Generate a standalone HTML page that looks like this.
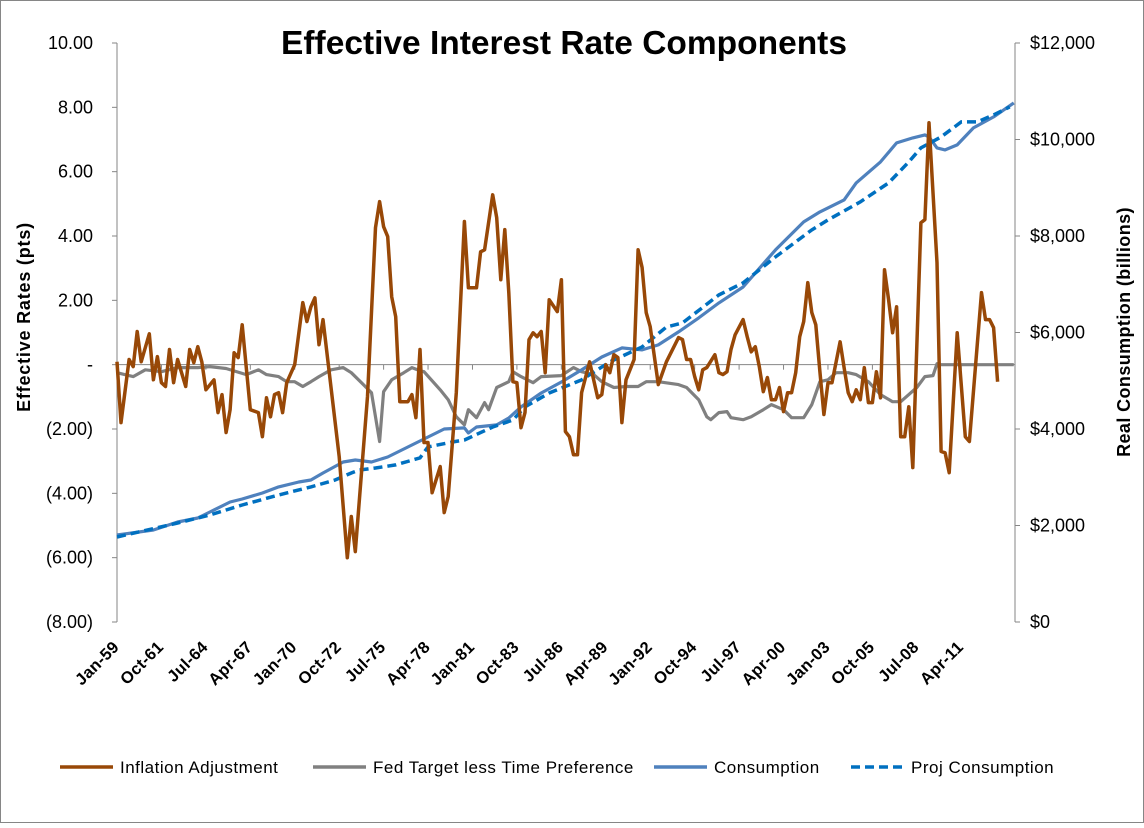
<!DOCTYPE html>
<html><head><meta charset="utf-8"><style>
html,body{margin:0;padding:0;background:#fff;}
svg text{font-family:"Liberation Sans",Arial,sans-serif;}
</style></head><body>
<svg id="chart" width="1144" height="823" viewBox="0 0 1144 823" xmlns="http://www.w3.org/2000/svg">
<rect x="0.5" y="0.5" width="1143" height="822" fill="#fff" stroke="#868686"/>
<text x="564" y="54" font-size="33.5" font-weight="bold" text-anchor="middle" fill="#000">Effective Interest Rate Components</text>
<g id="axes"></g>
<g id="series"></g>
<g id="legend"></g>
</svg>
<script>
// ---- data (quarter index from Jan-59) ----
const xLabels = ["Jan-59","Oct-61","Jul-64","Apr-67","Jan-70","Oct-72","Jul-75","Apr-78","Jan-81","Oct-83","Jul-86","Apr-89","Jan-92","Oct-94","Jul-97","Apr-00","Jan-03","Oct-05","Jul-08","Apr-11"];
const leftTicks = [10,8,6,4,2,0,-2,-4,-6,-8];
const leftTickLabels = ["10.00","8.00","6.00","4.00","2.00","-","(2.00)","(4.00)","(6.00)","(8.00)"];
const rightTicks = [12000,10000,8000,6000,4000,2000,0];
const rightTickLabels = ["$12,000","$10,000","$8,000","$6,000","$4,000","$2,000","$0"];

const infQ = [0,1,3,4,5,6,8,9,10,11,12,13,14,15,17,18,19,20,21,22,24,25,26,27,28,29,30,31,33,35,36,37,38,39,40,41,42,44,46,47,48,49,50,51,55,57,58,59,62,64,65,66,67,68,69,70,72,73,74,75,76,77,78,80,81,82,84,86,87,89,90,91,93,94,95,96,97,98,99,100,101,102,103,104,105,106,107,109,110,111,112,113,114,115,117,119,120,121,122,123,124,125,126,128,129,130,131,132,134,136,139,140,141,142,143,144,145,146,148,149,150,151,152,153,155,156,157,158,159,160,161,162,163,164,165,166,167,168,169,170,171,172,173,174,175,176,177,179,180,181,182,183,184,185,186,187,188,189,190,191,192,193,194,195,196,197,199,200,201,203,204,205,206,208,210,211,213,214,215,216,217,218];
const infV = [0.09,-1.80,0.16,-0.06,1.03,0.09,0.96,-0.47,0.25,-0.56,-0.68,0.47,-0.56,0.16,-0.68,0.47,0.06,0.56,0.09,-0.78,-0.47,-1.49,-0.93,-2.11,-1.40,0.37,0.22,1.24,-1.40,-1.49,-2.24,-1.03,-1.62,-0.93,-0.87,-1.49,-0.56,0.00,1.93,1.34,1.80,2.08,0.62,1.40,-2.86,-6.00,-4.72,-5.81,-0.99,4.26,5.07,4.29,3.98,2.11,1.49,-1.15,-1.15,-0.93,-1.65,0.47,-2.42,-2.42,-3.98,-3.17,-4.60,-4.10,-0.87,4.45,2.39,2.39,3.51,3.57,5.28,4.57,2.64,4.20,2.24,-0.53,-0.56,-1.96,-1.49,0.78,0.99,0.87,1.03,-0.25,2.02,1.65,2.64,-2.08,-2.24,-2.80,-2.80,-0.87,0.09,-1.03,-0.93,0.00,-0.25,0.31,0.22,-1.80,-0.47,0.16,3.57,3.02,1.62,1.18,-0.62,0.09,0.84,0.78,0.16,0.16,-0.37,-0.78,-0.16,-0.09,0.31,-0.25,-0.31,-0.22,0.47,0.93,1.40,0.87,0.40,0.56,-0.06,-0.84,-0.40,-1.09,-1.09,-0.71,-1.46,-0.87,-0.87,-0.25,0.87,1.34,2.55,1.62,1.24,-0.22,-1.55,-0.56,-0.56,0.71,-0.09,-0.87,-1.15,-0.78,-1.09,-0.09,-1.18,-1.18,-0.22,-1.03,2.95,2.02,0.99,1.80,-2.24,-2.24,-1.31,-3.20,4.41,4.51,7.52,3.17,-2.70,-2.74,-3.36,0.99,-2.24,-2.39,0.68,2.24,1.40,1.40,1.15,-0.53];

const fedQ = [0,4,7,11,15,20,23,27,32,35,37,40,42,44,46,48,50,53,56,58,61,63,65,66,68,71,73,75,76,80,82,84,86,87,89,91,92,94,97,98,100,103,105,110,113,115,118,120,123,126,129,131,134,139,141,144,146,147,149,151,152,155,157,160,162,165,167,170,172,174,176,178,181,183,186,189,192,194,196,198,200,202,203,204,222];
const fedV = [-0.25,-0.37,-0.16,-0.22,-0.09,-0.09,-0.06,-0.12,-0.31,-0.16,-0.31,-0.37,-0.53,-0.53,-0.68,-0.53,-0.37,-0.16,-0.09,-0.25,-0.62,-0.87,-2.39,-0.84,-0.47,-0.25,-0.09,-0.19,-0.22,-0.78,-1.09,-1.62,-1.87,-1.40,-1.65,-1.18,-1.40,-0.71,-0.53,-0.22,-0.37,-0.56,-0.37,-0.34,-0.09,-0.22,-0.31,-0.53,-0.71,-0.68,-0.68,-0.53,-0.53,-0.62,-0.71,-1.09,-1.62,-1.71,-1.49,-1.46,-1.65,-1.71,-1.62,-1.40,-1.24,-1.40,-1.65,-1.65,-1.24,-0.53,-0.47,-0.25,-0.25,-0.31,-0.53,-0.93,-1.15,-1.15,-0.93,-0.71,-0.37,-0.34,0.03,0,0];

const consQ = [0,9,15,20,23,28,31,36,40,45,48,51,56,59,63,67,73,81,86,87,89,94,97,100,105,110,115,120,125,130,134,139,144,149,155,163,170,174,180,183,189,193,197,200,201,203,205,208,212,217,222];
const consV = [1804,1907,2073,2156,2280,2488,2550,2674,2799,2902,2944,3089,3317,3358,3317,3420,3669,4001,4022,3918,4042,4084,4229,4457,4747,4975,5224,5493,5680,5639,5742,6012,6302,6613,6944,7712,8292,8499,8748,9100,9536,9930,10033,10096,10054,9826,9785,9888,10240,10469,10759];

const projQ = [0,15,23,31,40,48,54,58,60,64,69,75,77,83,86,93,98,101,107,115,122,130,136,140,149,155,163,172,176,184,191,196,199,204,209,213,217,221];
const projV = [1762,2052,2218,2425,2633,2799,2944,3089,3151,3192,3255,3400,3628,3731,3773,4042,4187,4457,4747,5017,5390,5701,6115,6198,6779,7027,7566,8126,8333,8707,9100,9536,9826,10054,10365,10365,10510,10676];

// ---- scales ----
const X0=117, X1=1015, Y0=43, Y1=622, NQ=222.3;
const xs = q => X0 + q*(X1-X0)/NQ;
const yl = v => Y0 + (10-v)*(Y1-Y0)/18;
const yr = v => Y1 - v*(Y1-Y0)/12000;
const NS="http://www.w3.org/2000/svg";
function mk(tag, attrs, parent){const e=document.createElementNS(NS,tag);for(const k in attrs)e.setAttribute(k,attrs[k]);parent.appendChild(e);return e;}
const axes=document.getElementById('axes'), ser=document.getElementById('series'), leg=document.getElementById('legend');

// left axis
let la=mk('line',{x1:X0,y1:Y0,x2:X0,y2:Y1,stroke:'#868686','stroke-width':1},axes);


leftTicks.forEach((v,i)=>{
  const y=yl(v);
  const t=mk('line',{x1:X0-5,y1:y,x2:X0,y2:y,stroke:'#868686'},axes);
  
  
  const tx=mk('text',{x:93,y:y+6,'font-size':18,'text-anchor':'end',fill:'#000'},axes);
  tx.textContent=leftTickLabels[i];
  
  
});
// right axis
let ra=mk('line',{x1:X1,y1:Y0,x2:X1,y2:Y1,stroke:'#868686','stroke-width':1},axes);


rightTicks.forEach((v,i)=>{
  const y=yr(v);
  const t=mk('line',{x1:X1,y1:y,x2:X1+5,y2:y,stroke:'#868686'},axes);
  
  
  const tx=mk('text',{x:1030,y:y+6,'font-size':18,'text-anchor':'start',fill:'#000'},axes);
  tx.textContent=rightTickLabels[i];
  
  
});
// zero axis line
let za=mk('line',{x1:X0,y1:yl(0),x2:X1,y2:yl(0),stroke:'#868686','stroke-width':1},axes);


xLabels.forEach((lab,i)=>{
  const x=xs(i*11);
  const t=mk('line',{x1:x,y1:yl(0),x2:x,y2:yl(0)+5,stroke:'#868686'},axes);
  
  
  const ax=x+3, ay=648;
  const tx=mk('text',{x:ax,y:ay,'font-size':16.5,'font-weight':'bold','letter-spacing':0.3,'text-anchor':'end',fill:'#000',transform:`rotate(-45 ${ax} ${ay})`},axes);
  tx.textContent=lab;
  
  
});
// axis titles
let lt=mk('text',{x:0,y:0,'font-size':18,'font-weight':'bold','letter-spacing':0.8,'text-anchor':'middle',fill:'#000',transform:'translate(30 317) rotate(-90)'},axes);
lt.textContent='Effective Rates (pts)';


let rt=mk('text',{x:0,y:0,'font-size':18,'font-weight':'bold','letter-spacing':0.4,'text-anchor':'middle',fill:'#000',transform:'translate(1130 332) rotate(-90)'},axes);
rt.textContent='Real Consumption  (billions)';



function path(qs, vs, yf){return qs.map((q,i)=>(i?'L':'M')+xs(q).toFixed(1)+' '+yf(vs[i]).toFixed(1)).join(' ');}
let p1=mk('path',{d:path(fedQ,fedV,yl),fill:'none',stroke:'#808080','stroke-width':3.2,'stroke-linejoin':'round'},ser);


let p2=mk('path',{d:path(consQ,consV,yr),fill:'none',stroke:'#4F81BD','stroke-width':3.2,'stroke-linejoin':'round'},ser);


let p3=mk('path',{d:path(projQ,projV,yr),fill:'none',stroke:'#0070C0','stroke-width':3.5,'stroke-dasharray':'9 5'},ser);


let p4=mk('path',{d:path(infQ,infV,yl),fill:'none',stroke:'#984807','stroke-width':3.5,'stroke-linejoin':'round'},ser);



// legend
const legNames=["Inflation Adjustment","Fed Target less Time Preference","Consumption","Proj Consumption"];
const legColors=["#984807","#808080","#4F81BD","#0070C0"];
const legX=[60,313,654,851];
legNames.forEach((n,i)=>{
  const g=mk('g',{},leg);
  
  
  const ln=mk('line',{x1:legX[i],y1:767,x2:legX[i]+53,y2:767,stroke:legColors[i],'stroke-width':3.5},g);
  if(i===3) ln.setAttribute('stroke-dasharray','9 5');
  
  
  const t=mk('text',{x:legX[i]+60,y:773,'font-size':17,'letter-spacing':0.5,fill:'#000'},g);
  t.textContent=n;
  
  
});
</script>
</body></html>
